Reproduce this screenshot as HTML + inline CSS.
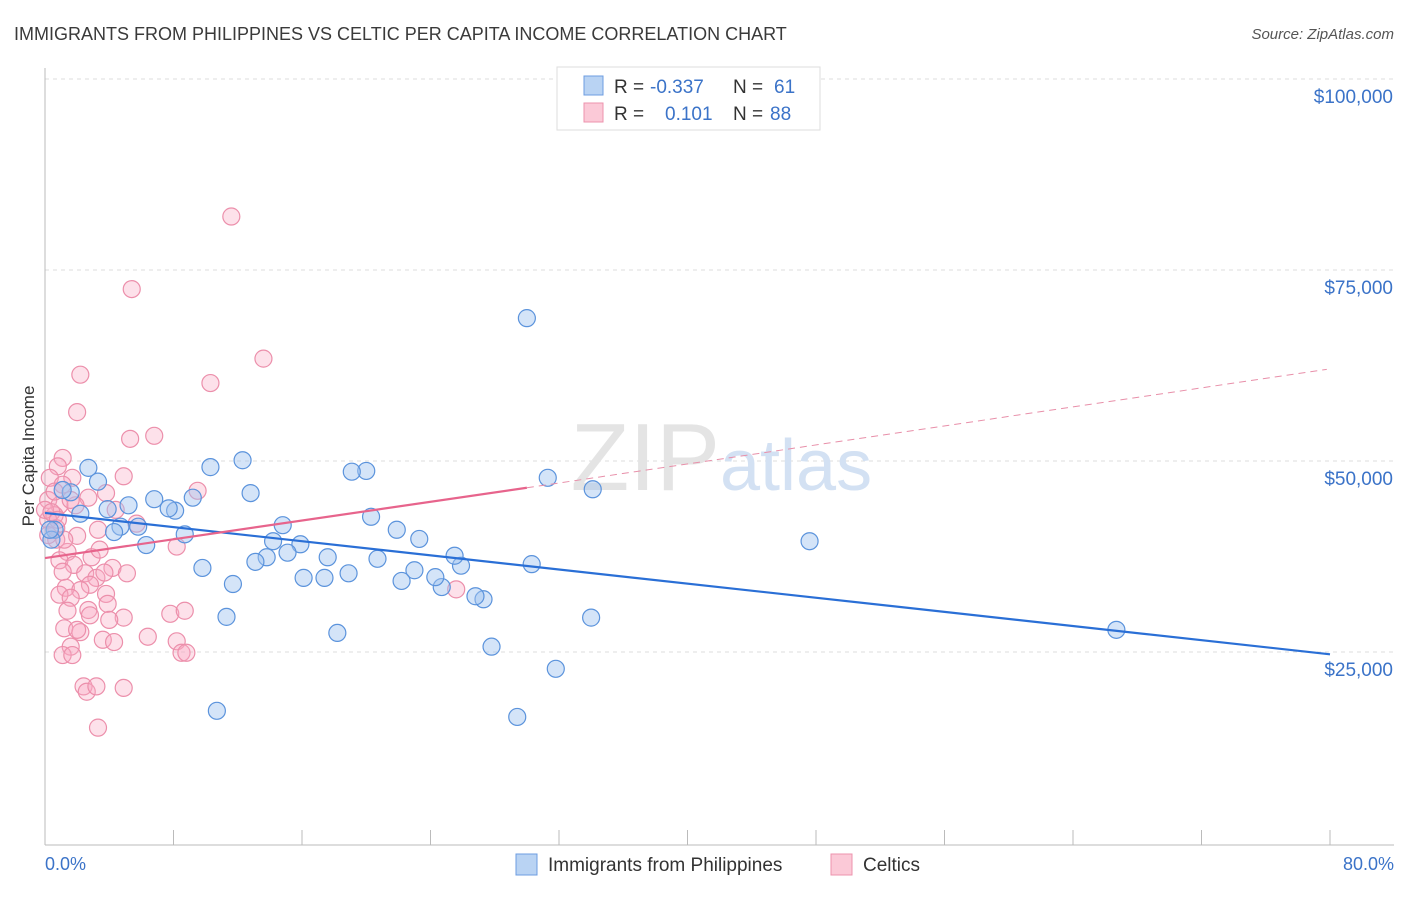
<!DOCTYPE html>
<html><head><meta charset="utf-8"><style>
body{margin:0;background:#fff;font-family:"Liberation Sans",sans-serif;}
svg text{font-family:"Liberation Sans",sans-serif;}
</style></head><body>
<svg width="1406" height="892" viewBox="0 0 1406 892" xmlns="http://www.w3.org/2000/svg" id="chart">
<text x="14" y="40" font-size="18" fill="#3a3a3a">IMMIGRANTS FROM PHILIPPINES VS CELTIC PER CAPITA INCOME CORRELATION CHART</text>
<text x="1394" y="39" font-size="15" fill="#555" font-style="italic" text-anchor="end">Source: ZipAtlas.com</text>
<g id="grid"></g>
<text x="720" y="490" font-size="96" fill="#e4e4e4" font-family="Liberation Serif" text-anchor="end">ZIP</text>
<text x="720" y="490" font-size="72" fill="#d3e1f3">atlas</text>
<line x1="45" y1="68" x2="45" y2="845" stroke="#bbb"/>
<line x1="45" y1="845" x2="1394" y2="845" stroke="#bbb"/>
<g id="xticks"></g>
<g id="ylabels"></g>
<text x="34" y="456" font-size="17" fill="#333" transform="rotate(-90 34 456)" text-anchor="middle">Per Capita Income</text>
<text x="45" y="870" font-size="18" fill="#3b73c8">0.0%</text>
<text x="1394" y="870" font-size="18" fill="#3b73c8" text-anchor="end">80.0%</text>
<g id="pink"></g>
<g id="blue"></g>
<g id="trends"></g>
<g>
<rect x="557" y="67" width="263" height="63" fill="#fff" stroke="#ddd"/>
<rect x="584" y="76" width="19" height="19" fill="#b9d3f3" stroke="#6d9de0"/>
<rect x="584" y="103" width="19" height="19" fill="#fbc9d7" stroke="#ec93ad"/>
<text x="614" y="93" font-size="19" fill="#333">R = </text><text x="650" y="93" font-size="19" fill="#3b73c8">-0.337</text>
<text x="733" y="93" font-size="19" fill="#333">N = </text><text x="774" y="93" font-size="19" fill="#3b73c8">61</text>
<text x="614" y="120" font-size="19" fill="#333">R = </text><text x="665" y="120" font-size="19" fill="#3b73c8">0.101</text>
<text x="733" y="120" font-size="19" fill="#333">N = </text><text x="770" y="120" font-size="19" fill="#3b73c8">88</text>
</g>
<g>
<rect x="516" y="854" width="21" height="21" fill="#b9d3f3" stroke="#6d9de0"/>
<text x="548" y="871" font-size="19" fill="#333">Immigrants from Philippines</text>
<rect x="831" y="854" width="21" height="21" fill="#fbc9d7" stroke="#ec93ad"/>
<text x="863" y="871" font-size="19" fill="#333">Celtics</text>
</g>
</svg>
<script>
const yTicks=[25000,50000,75000,100000];
const yTickLabels=["$25,000","$50,000","$75,000","$100,000"];
const blueX=[30.0,31.3,34.1,47.6,66.7,34.0,31.8,29.4,27.8,27.3,26.8,30.3,25.9,25.5,24.7,24.3,23.0,22.2,23.3,21.9,20.7,20.3,20.0,19.1,18.9,18.2,17.4,17.6,16.1,15.9,15.1,14.8,14.2,13.8,13.1,12.8,12.3,11.7,11.3,10.7,10.3,9.8,9.2,8.7,8.1,7.7,6.8,6.3,5.8,5.2,4.7,4.3,3.9,3.3,2.7,2.2,1.6,1.1,0.6,0.4,0.3];
const blueY=[68.7,47.8,46.3,39.5,27.9,29.5,22.8,16.5,25.7,31.9,32.3,36.5,36.3,37.6,33.5,34.8,35.7,34.3,39.8,41.0,37.2,42.7,48.7,48.6,35.3,27.5,34.7,37.4,34.7,39.1,38.0,41.6,39.5,37.4,36.8,45.8,50.1,33.9,29.6,17.3,49.2,36.0,45.2,40.4,43.5,43.8,45.0,39.0,41.4,44.2,41.4,40.7,43.7,47.3,49.1,43.1,45.9,46.2,41.0,39.7,41.0];
const pinkX=[11.6,5.4,13.6,2.2,10.3,2.0,6.8,5.3,1.1,0.8,4.9,1.7,9.5,0.3,3.8,2.7,0.2,0.9,1.9,0.6,0.2,0.7,4.4,5.7,3.3,2.0,0.7,8.2,1.4,2.9,0.9,4.2,5.1,1.8,2.5,3.2,1.1,2.8,1.3,2.2,3.8,0.9,1.6,3.9,2.7,1.4,4.9,4.0,7.8,8.7,1.2,2.2,2.0,6.4,3.6,4.3,8.2,1.6,1.1,1.7,8.5,8.8,2.4,2.6,3.2,4.9,3.3,25.6,1.1,0.6,0.0,0.4,0.8,0.2,1.6,2.8,1.2,3.4,3.7];
const pinkY=[82.0,72.5,63.4,61.3,60.2,56.4,53.3,52.9,50.4,49.3,48.0,47.8,46.1,47.8,45.8,45.2,44.9,44.2,44.2,42.9,42.3,41.2,43.6,41.8,41.0,40.2,39.7,38.8,38.1,37.4,37.0,36.0,35.3,36.4,35.3,34.7,35.5,33.8,33.4,33.1,32.6,32.5,32.1,31.3,30.5,30.4,29.5,29.2,30.0,30.4,28.1,27.6,27.9,27.0,26.6,26.3,26.4,25.7,24.6,24.6,24.9,24.9,20.5,19.8,20.5,20.3,15.1,33.2,46.9,46.0,43.6,43.3,42.3,40.3,44.9,29.8,39.7,38.4,35.4];
const blueTrend=[[0,43.2],[80,24.7]];
const pinkTrend=[[0,37.3],[30,46.5],[79.8,62.0]];
const xTicks=[0,8,16,24,32,40,48,56,64,72,80];
const sx=p=>45+p/80*1285;
const sy=k=>652-(k-25)/25*191;
const NS="http://www.w3.org/2000/svg";
function mk(tag,attrs,parent){const e=document.createElementNS(NS,tag);for(const k in attrs)e.setAttribute(k,attrs[k]);parent.appendChild(e);return e;}
const grid=document.getElementById('grid'),yl=document.getElementById('ylabels');
yTicks.forEach((t,i)=>{const y=sy(t/1000);
 const l=mk('line',{x1:45,x2:1394,y1:y,y2:y,stroke:'#ddd','stroke-dasharray':'4,4'},grid);
 
 
 const tx=mk('text',{x:1393,y:y+24,'font-size':19,fill:'#3b73c8','text-anchor':'end'},yl);
 tx.textContent=yTickLabels[i];
 
 
});
const xt=document.getElementById('xticks');
xTicks.forEach(t=>{const l=mk('line',{x1:sx(t),x2:sx(t),y1:830,y2:845,stroke:'#bbb'},xt);
 
 });
const pg=document.getElementById('pink');
pinkX.forEach((x,i)=>{const c=mk('circle',{cx:sx(x),cy:sy(pinkY[i]),r:8.5,fill:'rgba(248,170,195,0.35)',stroke:'#ec8fab','stroke-width':1.2},pg);
 
 });
const bg=document.getElementById('blue');
blueX.forEach((x,i)=>{const c=mk('circle',{cx:sx(x),cy:sy(blueY[i]),r:8.5,fill:'rgba(160,196,240,0.45)',stroke:'#5b93dc','stroke-width':1.2},bg);
 
 });
const tg=document.getElementById('trends');
const bl=mk('line',{x1:sx(blueTrend[0][0]),y1:sy(blueTrend[0][1]),x2:sx(blueTrend[1][0]),y2:sy(blueTrend[1][1]),stroke:'#2a6fd6','stroke-width':2.2},tg);


const pl=mk('line',{x1:sx(pinkTrend[0][0]),y1:sy(pinkTrend[0][1]),x2:sx(pinkTrend[1][0]),y2:sy(pinkTrend[1][1]),stroke:'#e7648c','stroke-width':2.2},tg);


const pd=mk('line',{x1:sx(pinkTrend[1][0]),y1:sy(pinkTrend[1][1]),x2:sx(pinkTrend[2][0]),y2:sy(pinkTrend[2][1]),stroke:'#e88fa9','stroke-width':1,'stroke-dasharray':'7,5'},tg);


</script>
</body></html>
